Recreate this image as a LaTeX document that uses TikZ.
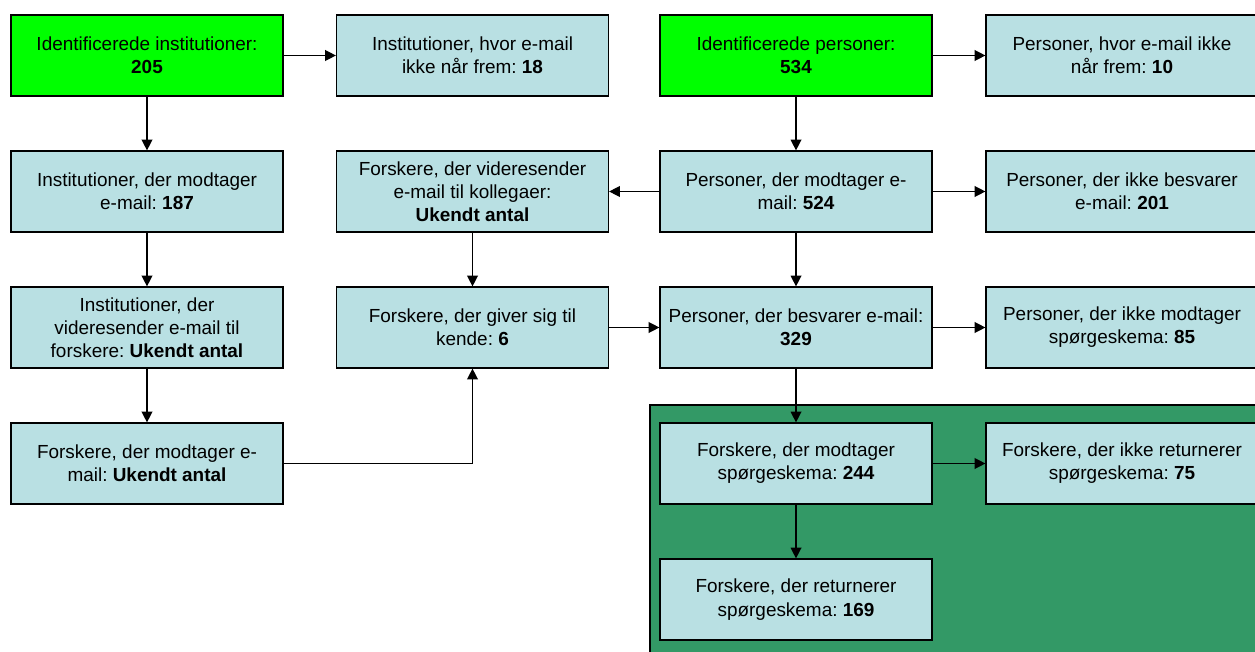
\documentclass[tikz,border=0pt]{standalone}
\usepackage{fontspec}
\setmainfont{Liberation Sans}
\usepackage{tikz}
\usetikzlibrary{arrows.meta}
\definecolor{lysblaa}{HTML}{B9E0E3}
\definecolor{lysgroen}{HTML}{00FF00}
\definecolor{moerkgroen}{HTML}{339966}
\frenchspacing

\begin{document}
\begin{tikzpicture}[x=0.75pt,y=-0.75pt,
    boks/.style={draw=black,line width=0.9pt,fill=lysblaa,minimum width=204pt,minimum height=60.75pt,
        align=center,inner sep=0pt,font=\fontsize{14.2}{17.4}\selectfont},
    startboks/.style={boks,fill=lysgroen},
    pil/.style={line width=1pt,-{Triangle[length=8pt,width=8pt]}}]
    \useasboundingbox (0,0) rectangle (1255,652);
    %% baggrund for spørgeskema-delen
    \draw[fill=moerkgroen,line width=0.9pt] (650,405) rectangle (1265,665);
    %% kolonne 1: institutioner
    \node[startboks] (inst1) at (147,55.5) {Identificerede institutioner:\\\textbf{205}};
    \node[boks] (inst2) at (147,191.5) {Institutioner, der modtager\\e-mail: \textbf{187}};
    \node[boks] (inst3) at (147,327.5) {Institutioner, der\\videresender e-mail til\\forskere: \textbf{Ukendt antal}};
    \node[boks] (inst4) at (147,463.5) {Forskere, der modtager e-\\mail: \textbf{Ukendt antal}};
    %% kolonne 2
    \node[boks] (instfrem) at (472.5,55.5) {Institutioner, hvor e-mail\\ikke når frem: \textbf{18}};
    \node[boks] (forsk1) at (472.5,191.5) {Forskere, der videresender\\e-mail til kollegaer:\\\textbf{Ukendt antal}};
    \node[boks] (forsk2) at (472.5,327.5) {Forskere, der giver sig til\\kende: \textbf{6}};
    %% kolonne 3: personer
    \node[startboks] (pers1) at (796,55.5) {Identificerede personer:\\\textbf{534}};
    \node[boks] (pers2) at (796,191.5) {Personer, der modtager e-\\mail: \textbf{524}};
    \node[boks] (pers3) at (796,327.5) {Personer, der besvarer e-mail:\\\textbf{329}};
    \node[boks] (spm1) at (796,463.5) {Forskere, der modtager\\spørgeskema: \textbf{244}};
    \node[boks] (spm2) at (796,599.5) {Forskere, der returnerer\\spørgeskema: \textbf{169}};
    %% kolonne 4
    \node[boks] (persfrem) at (1122,55.5) {Personer, hvor e-mail ikke\\når frem: \textbf{10}};
    \node[boks] (persikke) at (1122,191.5) {Personer, der ikke besvarer\\e-mail: \textbf{201}};
    \node[boks] (persspm) at (1122,327.5) {Personer, der ikke modtager\\spørgeskema: \textbf{85}};
    \node[boks] (spmikke) at (1122,463.5) {Forskere, der ikke returnerer\\spørgeskema: \textbf{75}};
    %% pile
    \draw[pil] (inst1) -- (instfrem);
    \draw[pil] (inst1) -- (inst2);
    \draw[pil] (inst2) -- (inst3);
    \draw[pil] (inst3) -- (inst4);
    \draw[pil] (inst4.east) -| (forsk2.south);
    \draw[pil] (forsk1) -- (forsk2);
    \draw[pil] (forsk2) -- (pers3);
    \draw[pil] (pers1) -- (persfrem);
    \draw[pil] (pers1) -- (pers2);
    \draw[pil] (pers2) -- (forsk1);
    \draw[pil] (pers2) -- (persikke);
    \draw[pil] (pers2) -- (pers3);
    \draw[pil] (pers3) -- (persspm);
    \draw[pil] (pers3) -- (spm1);
    \draw[pil] (spm1) -- (spmikke);
    \draw[pil] (spm1) -- (spm2);
\end{tikzpicture}
\end{document}
